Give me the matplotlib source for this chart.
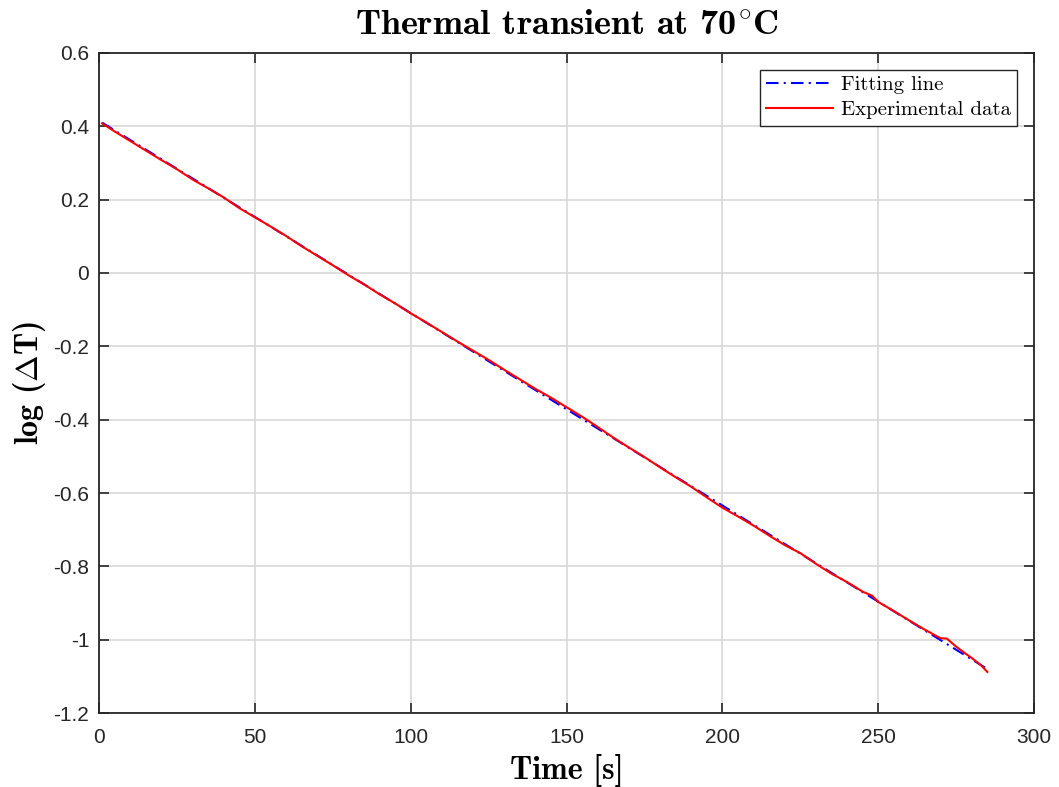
"""
Thermal transient at 70 C: log(dT) vs time with linear fit.
"""

import matplotlib.pyplot as plt

plt.rcParams['mathtext.fontset'] = 'cm'
plt.rcParams['axes.unicode_minus'] = False
plt.rcParams['font.family'] = ['Liberation Sans', 'DejaVu Sans']

# fitted straight line (end points)
fit_t = [1, 285]
fit_y = [0.410, -1.080]

# experimental data
exp_t = [1, 5, 10, 15, 20, 25, 30, 35, 40, 45, 50, 55, 60, 65, 70, 75, 80,
         85, 90, 95, 100, 105, 110, 115, 120, 125, 130, 135, 140, 145, 150,
         155, 160, 165, 170, 175, 180, 185, 190, 195, 200, 205, 210, 215,
         220, 225, 230, 235, 240, 245, 248, 250, 255, 260, 265, 268, 270,
         272, 275, 278, 280, 283, 285]
exp_y = [0.408, 0.386, 0.360, 0.334, 0.308, 0.283, 0.255, 0.231, 0.206,
         0.177, 0.152, 0.127, 0.101, 0.073, 0.047, 0.021, -0.006, -0.031,
         -0.058, -0.083, -0.110, -0.135, -0.161, -0.187, -0.212, -0.237,
         -0.264, -0.290, -0.316, -0.340, -0.366, -0.392, -0.420, -0.449,
         -0.476, -0.502, -0.530, -0.557, -0.583, -0.612, -0.640, -0.664,
         -0.689, -0.716, -0.742, -0.764, -0.793, -0.820, -0.843, -0.869,
         -0.880, -0.897, -0.922, -0.948, -0.973, -0.987, -0.996, -0.997,
         -1.019, -1.038, -1.050, -1.070, -1.088]

x_ticks = [0, 50, 100, 150, 200, 250, 300]
y_ticks = [-1.2, -1, -0.8, -0.6, -0.4, -0.2, 0, 0.2, 0.4, 0.6]
y_tick_labels = ['-1.2', '-1', '-0.8', '-0.6', '-0.4', '-0.2', '0', '0.2', '0.4', '0.6']

fig = plt.figure(figsize=(10.59, 7.87), dpi=100)
ax = fig.add_axes([0.0935, 0.094, 0.883, 0.8387])

ax.plot(fit_t, fit_y, color='blue', lw=1.5, dashes=(6, 2.5, 1, 2.5),
        label='Fitting line')
ax.plot(exp_t, exp_y, color='red', lw=1.5, label='Experimental data')

ax.set_xlim(0, 300)
ax.set_ylim(-1.2, 0.6)
ax.set_xticks(x_ticks)
ax.set_yticks(y_ticks)
ax.set_yticklabels(y_tick_labels)
ax.tick_params(direction='in', length=7, width=1.2, top=True, right=True,
               labelsize=15, colors='#262626')
ax.tick_params(axis='x', pad=11)
ax.tick_params(axis='y', pad=7)
ax.grid(True, color='#d8d8d8', lw=1.2)
ax.set_axisbelow(True)
for sp in ax.spines.values():
    sp.set_color('#262626')
    sp.set_linewidth(1.3)

ax.set_title(r'Thermal transient at 70$^{\!\circ}\!$C', family='cmb10',
             fontsize=26, pad=13)
ax.set_xlabel('Time [s]', family='cmb10', fontsize=23, labelpad=5)
ax.set_ylabel(r'log ($\Delta$T)', family='cmb10', fontsize=23, labelpad=4)

leg = ax.legend(loc='upper right', prop={'family': 'cmr10', 'size': 15},
                fancybox=False, edgecolor='#262626', framealpha=1,
                handlelength=3.2, borderaxespad=0.8, labelspacing=0.3,
                borderpad=0.3, handletextpad=0.4)
leg.get_frame().set_linewidth(1.0)

plt.savefig('out.png', dpi=100)
plt.close()
